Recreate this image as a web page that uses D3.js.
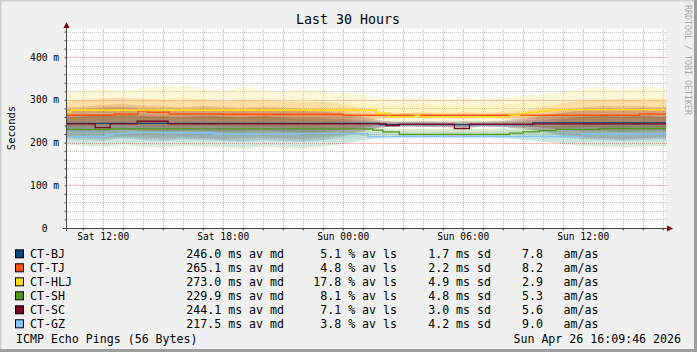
<!DOCTYPE html>
<html lang="en">

<head>
  <meta charset="UTF-8">
  <title>Last 30 Hours</title>
  <script src="https://d3js.org/d3.v7.min.js"></script>
  <style>
    body {
      margin: 0;
    }

    svg text {
      font-family: "DejaVu Sans Mono", monospace;
      fill: #000;
    }
  </style>
</head>

<body>
  <div id="chart"></div>
  <script>

    // hosts in legend order
    const hosts = ["CT-BJ", "CT-TJ", "CT-HLJ", "CT-SH", "CT-SC", "CT-GZ"];
    const hostColors = ["#0b457a", "#ff5317", "#ffd91c", "#4f9a1c", "#7a0a26", "#80c6fb"];

    // legend statistics
    const avgMedian = [246.0, 265.1, 273.0, 229.9, 244.1, 217.5];
    const avgLoss = [5.1, 4.8, 17.8, 8.1, 7.1, 3.8];
    const avgSd = [1.7, 2.2, 4.9, 4.8, 3.0, 4.2];
    const amAs = [7.8, 8.2, 2.9, 5.3, 5.6, 9.0];

    const yTicks = [0, 100, 200, 300, 400];

    // median lines (ms), step changes
    const bjTimes = ["Sat 10:10", "Sun 01:50", "Sun 09:30"];
    const bjValues = [245, 242, 246];
    const tjTimes = ["Sat 10:10", "Sat 12:35", "Sat 13:45", "Sat 14:15", "Sat 15:20", "Sat 18:00", "Sun 00:00", "Sun 14:50"];
    const tjValues = [264, 267, 274, 271, 267, 266, 264, 267];
    const hljTimes = ["Sat 10:10", "Sat 10:25", "Sun 01:40", "Sun 02:20", "Sun 03:35", "Sun 03:50", "Sun 08:20", "Sun 08:50", "Sun 09:20", "Sun 09:50", "Sun 10:20"];
    const hljValues = [272, 276, 268, 260, 264, 260, 264, 268, 271, 274, 277];
    const shTimes = ["Sat 10:10", "Sat 12:15", "Sun 01:30", "Sun 02:00", "Sun 02:50", "Sun 08:20", "Sun 09:00", "Sun 09:50", "Sun 10:40", "Sun 12:50"];
    const shValues = [231, 232, 229, 225, 219, 222, 225, 228, 231, 233];
    const scTimes = ["Sat 10:10", "Sat 11:37", "Sat 12:22", "Sat 13:43", "Sat 15:16", "Sun 02:10", "Sun 02:50", "Sun 05:35", "Sun 06:20", "Sun 09:30"];
    const scValues = [244, 235, 244, 250, 244, 240, 243, 233, 243, 244];
    const gzTimes = ["Sat 10:10", "Sat 12:10", "Sat 12:30", "Sat 13:15", "Sat 15:05", "Sat 17:35", "Sat 21:45", "Sun 01:15", "Sun 12:00"];
    const gzValues = [214, 218, 221, 224, 223, 220, 221, 214, 220];

    // smoke (ping spread), hourly from Sat 10:00 to Sun 16:00
    const smokeTimes = ["Sat 10:00", "Sat 11:00", "Sat 12:00", "Sat 13:00", "Sat 14:00", "Sat 15:00", "Sat 16:00", "Sat 17:00",
      "Sat 18:00", "Sat 19:00", "Sat 20:00", "Sat 21:00", "Sat 22:00", "Sat 23:00", "Sun 00:00", "Sun 01:00", "Sun 02:00",
      "Sun 03:00", "Sun 04:00", "Sun 05:00", "Sun 06:00", "Sun 07:00", "Sun 08:00", "Sun 09:00", "Sun 10:00", "Sun 11:00",
      "Sun 12:00", "Sun 13:00", "Sun 14:00", "Sun 15:00", "Sun 16:00", "Sun 16:10"];
    const bjHi = [282, 284, 288, 290, 286, 284, 282, 286, 284, 280, 284, 282, 280, 278, 272, 262, 252, 250, 251, 250, 251, 250, 252, 258, 266, 276, 282, 286, 284, 286, 282, 284];
    const bjLo = [208, 206, 204, 210, 206, 204, 208, 206, 204, 202, 206, 204, 202, 206, 214, 226, 236, 238, 237, 238, 237, 238, 236, 232, 224, 214, 208, 206, 204, 206, 208, 206];
    const tjHi = [298, 300, 304, 306, 302, 300, 298, 302, 296, 300, 298, 296, 294, 296, 290, 280, 272, 270, 272, 270, 272, 270, 272, 276, 284, 292, 298, 300, 302, 298, 300, 298];
    const tjLo = [240, 238, 242, 244, 240, 238, 240, 236, 238, 240, 236, 238, 236, 240, 244, 250, 256, 258, 257, 258, 256, 258, 256, 252, 246, 240, 238, 236, 238, 240, 238, 240];
    const hljHi = [318, 322, 326, 320, 328, 330, 334, 326, 322, 330, 324, 318, 326, 320, 316, 312, 304, 302, 306, 300, 304, 302, 306, 310, 314, 318, 326, 330, 324, 332, 328, 326];
    const hljLo = [232, 228, 226, 230, 224, 222, 226, 228, 224, 222, 226, 230, 228, 226, 230, 236, 244, 248, 246, 248, 244, 246, 244, 240, 236, 232, 226, 224, 228, 226, 230, 228];
    const shHi = [258, 260, 262, 264, 262, 260, 258, 262, 260, 258, 260, 258, 256, 254, 250, 242, 234, 232, 233, 232, 233, 232, 234, 238, 246, 254, 260, 262, 260, 262, 260, 262];
    const shLo = [196, 192, 190, 194, 190, 188, 192, 190, 188, 186, 190, 188, 186, 190, 196, 206, 212, 214, 213, 214, 213, 214, 212, 208, 202, 196, 192, 190, 188, 190, 192, 190];
    const scHi = [276, 278, 282, 284, 280, 278, 276, 280, 278, 276, 278, 276, 274, 272, 268, 258, 250, 248, 249, 248, 249, 248, 250, 254, 262, 270, 276, 280, 278, 280, 276, 278];
    const scLo = [214, 212, 210, 214, 212, 210, 212, 210, 208, 210, 212, 210, 208, 212, 218, 228, 236, 238, 237, 236, 232, 238, 237, 234, 226, 218, 212, 210, 208, 210, 212, 210];
    const gzHi = [236, 238, 240, 242, 240, 238, 236, 240, 238, 236, 238, 236, 234, 232, 230, 226, 222, 220, 221, 220, 221, 220, 222, 224, 228, 232, 236, 238, 236, 238, 236, 238];
    const gzLo = [198, 196, 194, 198, 194, 192, 196, 194, 192, 190, 194, 192, 190, 194, 198, 204, 208, 210, 209, 210, 209, 210, 208, 206, 202, 198, 196, 194, 192, 194, 196, 194];

    const medianTimes = [bjTimes, tjTimes, hljTimes, shTimes, scTimes, gzTimes];
    const medianValues = [bjValues, tjValues, hljValues, shValues, scValues, gzValues];
    const smokeHi = [bjHi, tjHi, hljHi, shHi, scHi, gzHi];
    const smokeLo = [bjLo, tjLo, hljLo, shLo, scLo, gzLo];

    // "Sat 10:10" -> Date (UTC)
    function when(s) {
      const [day, hm] = s.split(" ");
      const [h, m] = hm.split(":").map(Number);
      return new Date(Date.UTC(2026, 3, day === "Sat" ? 25 : 26, h, m));
    }

    const start = new Date(Date.UTC(2026, 3, 25, 10, 9, 46));
    const end = new Date(Date.UTC(2026, 3, 26, 16, 9, 46));

    const W = 697, H = 352;
    const plot = { left: 66, right: 666, top: 29, bottom: 228 };

    const svg = d3.select("#chart")
      .append("svg")
      .attr("width", W)
      .attr("height", H);

    // background with rrdtool-like shading
    svg.append("rect").attr("width", W).attr("height", H).attr("fill", "#f0f0f0");
    svg.append("path").attr("d", `M0,${H} V0 H${W}`).attr("fill", "none").attr("stroke", "#cfcfcf").attr("stroke-width", 3);
    svg.append("path").attr("d", `M0,${H - 1.5} H${W - 1.5} V0`).attr("fill", "none").attr("stroke", "#9e9e9e").attr("stroke-width", 3);

    // canvas
    svg.append("rect")
      .attr("x", plot.left).attr("y", plot.top)
      .attr("width", plot.right - plot.left).attr("height", plot.bottom - plot.top)
      .attr("fill", "#fff");

    const x = d3.scaleUtc().domain([start, end]).range([plot.left, plot.right]);
    const y = d3.scaleLinear().domain([0, 466]).range([plot.bottom, plot.top]);

    // grid
    const grid = svg.append("g").attr("shape-rendering", "crispEdges");
    const minorY = d3.range(20, 461, 20).filter(v => v % 100 !== 0);
    grid.selectAll(".hminor")
      .data(minorY)
      .join("line")
      .attr("x1", plot.left).attr("x2", plot.right + 2)
      .attr("y1", d => Math.round(y(d)) + 0.5).attr("y2", d => Math.round(y(d)) + 0.5)
      .attr("stroke", "#c4c4c4").attr("stroke-dasharray", "1,1");
    grid.selectAll(".hmajor")
      .data(yTicks.filter(v => v > 0))
      .join("line")
      .attr("x1", plot.left).attr("x2", plot.right + 2)
      .attr("y1", d => Math.round(y(d)) + 0.5).attr("y2", d => Math.round(y(d)) + 0.5)
      .attr("stroke", "#f09a9a").attr("stroke-dasharray", "1,1");

    const hours = x.ticks(d3.utcHour.every(1));
    grid.selectAll(".vminor")
      .data(hours.filter(d => d.getUTCHours() % 3 !== 0))
      .join("line")
      .attr("x1", d => Math.round(x(d)) + 0.5).attr("x2", d => Math.round(x(d)) + 0.5)
      .attr("y1", plot.top).attr("y2", plot.bottom)
      .attr("stroke", "#c4c4c4").attr("stroke-dasharray", "1,1");
    grid.selectAll(".vmajor")
      .data(hours.filter(d => d.getUTCHours() % 3 === 0))
      .join("line")
      .attr("x1", d => Math.round(x(d)) + 0.5).attr("x2", d => Math.round(x(d)) + 0.5)
      .attr("y1", plot.top).attr("y2", plot.bottom)
      .attr("stroke", "#f09a9a").attr("stroke-dasharray", "1,1");

    svg.append("clipPath").attr("id", "clip")
      .append("rect")
      .attr("x", plot.left + 1).attr("y", plot.top)
      .attr("width", plot.right - plot.left).attr("height", plot.bottom - plot.top);

    const graph = svg.append("g").attr("clip-path", "url(#clip)");

    // smoke: outer band + inner band per host
    const smokeDates = smokeTimes.map(when);
    hosts.forEach((h, i) => {
      const rows = smokeDates.map((d, j) => ({ t: d, lo: smokeLo[i][j], hi: smokeHi[i][j] }));
      graph.append("path")
        .datum(rows)
        .attr("fill", hostColors[i])
        .attr("fill-opacity", 0.17)
        .attr("d", d3.area()
          .x(d => x(d.t))
          .y0(d => y(d.lo))
          .y1(d => y(d.hi)));
      graph.append("path")
        .datum(rows)
        .attr("fill", hostColors[i])
        .attr("fill-opacity", 0.13)
        .attr("d", d3.area()
          .x(d => x(d.t))
          .y0(d => y(d.lo + (d.hi - d.lo) * 0.25))
          .y1(d => y(d.hi - (d.hi - d.lo) * 0.25)));
    });

    // median lines
    hosts.forEach((h, i) => {
      const pts = medianTimes[i].map((t, j) => ({ t: when(t), v: medianValues[i][j] }));
      pts.push({ t: end, v: pts[pts.length - 1].v });
      graph.append("path")
        .datum(pts)
        .attr("fill", "none")
        .attr("stroke", hostColors[i])
        .attr("stroke-width", i === 2 || i === 1 ? 1.6 : 1.3)
        .attr("d", d3.line()
          .curve(d3.curveStepAfter)
          .x(d => x(d.t))
          .y(d => y(d.v)));
    });

    // axes
    const axisColor = "#454545";
    svg.append("g")
      .attr("transform", `translate(${plot.left + 0.5},0)`)
      .call(d3.axisLeft(y).tickValues(d3.range(0, 461, 20)).tickSize(2).tickFormat(""))
      .call(g => g.select(".domain").remove())
      .call(g => g.selectAll("line").attr("stroke", axisColor));
    svg.append("g")
      .attr("transform", `translate(0,${plot.bottom + 0.5})`)
      .call(d3.axisBottom(x).ticks(d3.utcHour.every(1)).tickSize(2).tickFormat(""))
      .call(g => g.select(".domain").remove())
      .call(g => g.selectAll("line").attr("stroke", axisColor));

    svg.append("line")
      .attr("x1", plot.left + 0.5).attr("x2", plot.left + 0.5)
      .attr("y1", plot.bottom + 3).attr("y2", plot.top - 2)
      .attr("stroke", axisColor);
    svg.append("line")
      .attr("x1", plot.left - 3).attr("x2", plot.right + 2)
      .attr("y1", plot.bottom + 0.5).attr("y2", plot.bottom + 0.5)
      .attr("stroke", axisColor);
    svg.append("path")
      .attr("d", `M${plot.left - 2.5},${plot.top - 1} L${plot.left + 3.5},${plot.top - 1} L${plot.left + 0.5},${plot.top - 7} Z`)
      .attr("fill", "#7f0000");
    svg.append("path")
      .attr("d", `M${plot.right + 1},${plot.bottom - 2.5} L${plot.right + 1},${plot.bottom + 3.5} L${plot.right + 7},${plot.bottom + 0.5} Z`)
      .attr("fill", "#7f0000");

    // tick labels
    const yAxis = svg.append("g")
      .attr("transform", `translate(${plot.left},0)`)
      .call(d3.axisLeft(y).tickValues(yTicks).tickSize(0).tickPadding(7)
        .tickFormat(d => d === 0 ? "0  " : d + " m"));
    yAxis.select(".domain").remove();
    yAxis.selectAll("text")
      .style("white-space", "pre")
      .attr("font-size", 9.6)
      .attr("font-family", "DejaVu Sans Mono");

    const xAxis = svg.append("g")
      .attr("transform", `translate(0,${plot.bottom})`)
      .call(d3.axisBottom(x).ticks(d3.utcHour.every(6)).tickSize(0).tickPadding(5)
        .tickFormat(d3.utcFormat("%a %H:%M")));
    xAxis.select(".domain").remove();
    xAxis.selectAll("text")
      .attr("font-size", 9.6)
      .attr("font-family", "DejaVu Sans Mono");

    // title, vertical label, watermark
    svg.append("text")
      .attr("x", 348).attr("y", 24)
      .attr("text-anchor", "middle")
      .attr("font-size", 13.3)
      .text("Last 30 Hours");

    svg.append("text")
      .attr("transform", "translate(14.5,128) rotate(-90)")
      .attr("text-anchor", "middle")
      .attr("font-size", 10.5)
      .text("Seconds");

    svg.append("text")
      .attr("transform", "translate(685,5) rotate(90)")
      .attr("font-size", 8.3)
      .style("fill", "#ababab")
      .text("RRDTOOL / TOBI OETIKER");

    // legend
    const fs = 11.6;
    const legend = svg.append("g");
    hosts.forEach((h, i) => {
      const cy = 254.3 + i * 14;
      const base = cy + 4;
      legend.append("rect")
        .attr("x", 15.5).attr("y", cy - 4.5)
        .attr("width", 8).attr("height", 8)
        .attr("fill", hostColors[i])
        .attr("stroke", "#000");
      legend.append("text").attr("x", 30).attr("y", base).attr("font-size", fs).text(h);
      legend.append("text").attr("x", 284).attr("y", base).attr("font-size", fs)
        .attr("text-anchor", "end").text(`${avgMedian[i].toFixed(1)} ms av md`);
      legend.append("text").attr("x", 397).attr("y", base).attr("font-size", fs)
        .attr("text-anchor", "end").text(`${avgLoss[i].toFixed(1)} % av ls`);
      legend.append("text").attr("x", 491).attr("y", base).attr("font-size", fs)
        .attr("text-anchor", "end").text(`${avgSd[i].toFixed(1)} ms sd`);
      legend.append("text").attr("x", 543).attr("y", base).attr("font-size", fs)
        .attr("text-anchor", "end").text(amAs[i].toFixed(1));
      legend.append("text").attr("x", 563.5).attr("y", base).attr("font-size", fs).text("am/as");
    });

    svg.append("text").attr("x", 16).attr("y", 342.5).attr("font-size", fs)
      .text("ICMP Echo Pings (56 Bytes)");
    svg.append("text").attr("x", 681).attr("y", 342.5).attr("font-size", fs)
      .attr("text-anchor", "end")
      .text("Sun Apr 26 16:09:46 2026");

  </script>
</body>

</html>
